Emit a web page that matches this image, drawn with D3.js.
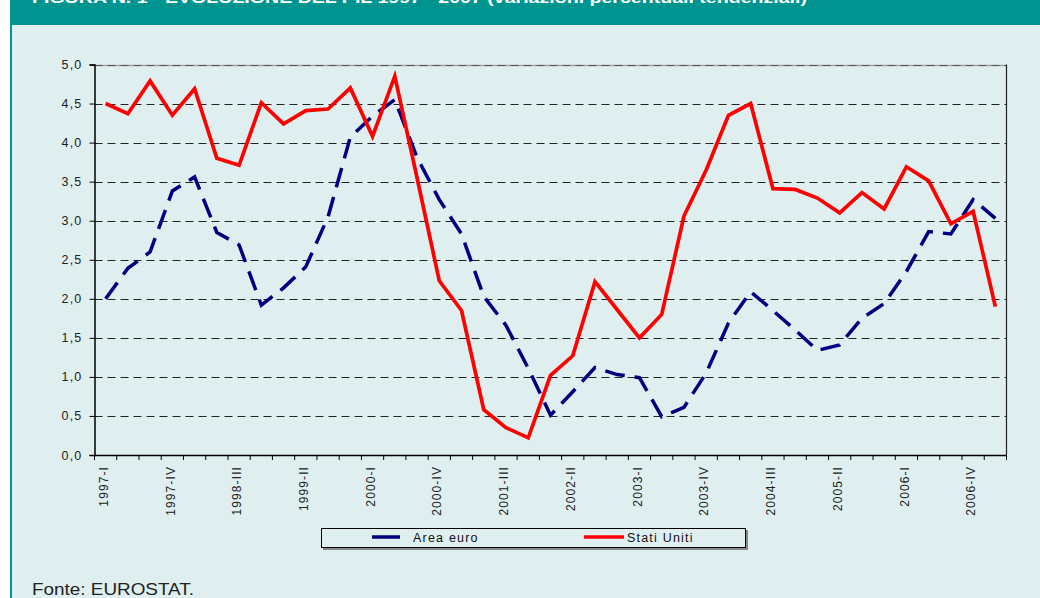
<!DOCTYPE html>
<html>
<head>
<meta charset="utf-8">
<script src="https://cdn.jsdelivr.net/npm/d3@7"></script>
<style>
  html, body { margin: 0; padding: 0; background: #ffffff; }
  svg { display: block; }
</style>
</head>
<body>
<svg id="chart" width="1040" height="598"></svg>
<script>
// ---- data ----
const years = [1997, 1998, 1999, 2000, 2001, 2002, 2003, 2004, 2005, 2006, 2007];
const romans = ["I", "II", "III", "IV"];
const quarterCount = 41; // 1997-I .. 2007-I
const seriesNames = ["Area euro", "Stati Uniti"];
const euroValues = [2.00, 2.39, 2.60, 3.38, 3.56, 2.85, 2.69, 1.92, 2.14, 2.41, 3.05, 4.07, 4.34, 4.55, 3.81, 3.27, 2.83, 2.03, 1.66, 1.11, 0.51, 0.81, 1.12, 1.03, 0.99, 0.49, 0.61, 1.05, 1.69, 2.09, 1.85, 1.60, 1.34, 1.41, 1.75, 1.94, 2.35, 2.86, 2.83, 3.27, 3.03];
const usValues = [4.50, 4.37, 4.79, 4.35, 4.69, 3.80, 3.71, 4.51, 4.24, 4.41, 4.43, 4.70, 4.08, 4.85, 3.55, 2.23, 1.85, 0.58, 0.35, 0.22, 1.02, 1.27, 2.22, 1.86, 1.50, 1.80, 3.06, 3.65, 4.35, 4.50, 3.41, 3.40, 3.29, 3.10, 3.36, 3.15, 3.69, 3.51, 2.96, 3.12, 1.90];
const yTicks = [0, 0.5, 1, 1.5, 2, 2.5, 3, 3.5, 4, 4.5, 5];
const titleText = "FIGURA N. 1 - EVOLUZIONE DEL PIL 1997 - 2007 (variazioni percentuali tendenziali)";
const sourceText = "Fonte: EUROSTAT.";

const quarters = [];
years.forEach(y => romans.forEach(r => quarters.push(y + "-" + r)));
const categories = quarters.slice(0, quarterCount);
const labelCats = categories.filter((d, i) => i % 3 === 0 && i < 40);

// ---- layout ----
const svg = d3.select("#chart");
const W = 1040, H = 598;
const plot = { left: 94.5, right: 1006.5, top: 64.5, bottom: 455 };
const font = "Arial, 'Liberation Sans', sans-serif";

// backgrounds
svg.append("rect").attr("x", 0).attr("y", 0).attr("width", W).attr("height", H).attr("fill", "#ffffff");
svg.append("rect").attr("x", 10).attr("y", 0).attr("width", W - 10).attr("height", H).attr("fill", "#dfefef");
svg.append("rect").attr("x", 10).attr("y", 0).attr("width", 2).attr("height", H).attr("fill", "#009490");
svg.append("rect").attr("x", 10).attr("y", 0).attr("width", W - 10).attr("height", 25).attr("fill", "#009490");
svg.append("text").attr("x", 32).attr("y", 2.5)
  .attr("font-family", font).attr("font-weight", "bold").attr("font-size", 15)
  .attr("fill", "#ffffff").attr("textLength", 775).attr("lengthAdjust", "spacingAndGlyphs")
  .text(titleText);

// scales
const x = d3.scaleBand().domain(categories).range([plot.left, plot.right]).paddingInner(0).paddingOuter(0);
const xc = d => x(d) + x.bandwidth() / 2;
const y = d3.scaleLinear().domain([0, 5]).range([plot.bottom, plot.top]);
const locale = d3.formatLocale({ decimal: ",", thousands: ".", grouping: [3], currency: ["", "€"] });
const fmt = locale.format(".1f");

// gridlines
const grid = svg.append("g");
grid.selectAll("line").data(yTicks.filter(v => v > 0)).join("line")
  .attr("x1", plot.left).attr("x2", plot.right)
  .attr("y1", d => Math.round(y(d)) + 0.5).attr("y2", d => Math.round(y(d)) + 0.5)
  .attr("stroke", "#222").attr("stroke-width", 1).attr("stroke-dasharray", "8,5");
svg.append("line").attr("x1", plot.left).attr("x2", plot.right)
  .attr("y1", Math.round(y(5)) + 0.5).attr("y2", Math.round(y(5)) + 0.5)
  .attr("stroke", "#777").attr("stroke-width", 1.5).attr("opacity", 0.6);

// right border
svg.append("line").attr("x1", plot.right).attr("x2", plot.right)
  .attr("y1", y(5)).attr("y2", plot.bottom).attr("stroke", "#222").attr("stroke-width", 1.2);

// y axis
const yAxis = d3.axisLeft(y).tickValues(yTicks).tickFormat(fmt).tickSize(5).tickPadding(7);
const gy = svg.append("g").attr("transform", `translate(${plot.left},0)`).call(yAxis);
gy.select(".domain").attr("stroke", "#000").attr("stroke-width", 1.5);
gy.selectAll(".tick line").attr("stroke", "#000");
gy.selectAll(".tick text").attr("font-family", font).attr("font-size", 12.5)
  .attr("letter-spacing", 1.2).attr("fill", "#222");

// x axis
const xAxis = d3.axisBottom(x).tickValues(labelCats).tickSize(0).tickPadding(0);
const gx = svg.append("g").attr("transform", `translate(0,${plot.bottom})`).call(xAxis);
gx.select(".domain").attr("stroke", "#000").attr("stroke-width", 1.5);
gx.selectAll(".tick text")
  .attr("font-family", font).attr("font-size", 12).attr("fill", "#222")
  .attr("letter-spacing", 1.1)
  .attr("text-anchor", "end")
  .attr("transform", "translate(-2,11) rotate(-90)")
  .attr("dy", "0.35em").attr("x", 0).attr("y", 0);
// minor ticks at band boundaries
const boundaries = categories.map(d => x(d)).concat([plot.right]);
svg.append("g").selectAll("line").data(boundaries).join("line")
  .attr("x1", d => d).attr("x2", d => d)
  .attr("y1", plot.bottom).attr("y2", plot.bottom + 5)
  .attr("stroke", "#000").attr("stroke-width", 1);

// lines
const lineGen = d3.line().x((d, i) => xc(categories[i])).y(d => y(d));
svg.append("path").datum(euroValues).attr("d", lineGen)
  .attr("fill", "none").attr("stroke", "#000080").attr("stroke-width", 3.5)
  .attr("stroke-dasharray", "20,10").attr("stroke-linejoin", "miter");
svg.append("path").datum(usValues).attr("d", lineGen)
  .attr("fill", "none").attr("stroke", "#ff0000").attr("stroke-width", 3.7)
  .attr("stroke-linejoin", "miter");

// legend
const lg = svg.append("g");
lg.append("rect").attr("x", 323).attr("y", 530).attr("width", 425).attr("height", 20).attr("fill", "#888");
lg.append("rect").attr("x", 321.5).attr("y", 528.5).attr("width", 424).attr("height", 19)
  .attr("fill", "#dfefef").attr("stroke", "#000").attr("stroke-width", 1);
const legendItems = [
  { name: seriesNames[0], color: "#000080", x1: 372, x2: 400, tx: 413 },
  { name: seriesNames[1], color: "#ff0000", x1: 584, x2: 624, tx: 627 }
];
legendItems.forEach(it => {
  lg.append("line").attr("x1", it.x1).attr("x2", it.x2).attr("y1", 537).attr("y2", 537)
    .attr("stroke", it.color).attr("stroke-width", 3.5);
  lg.append("text").attr("x", it.tx).attr("y", 542)
    .attr("font-family", font).attr("font-size", 12.5).attr("fill", "#111")
    .attr("letter-spacing", 1.2).text(it.name);
});

// source
svg.append("text").attr("x", 32).attr("y", 595)
  .attr("font-family", font).attr("font-size", 17).attr("fill", "#222")
  .attr("textLength", 162).attr("lengthAdjust", "spacingAndGlyphs")
  .text(sourceText);
</script>
</body>
</html>
